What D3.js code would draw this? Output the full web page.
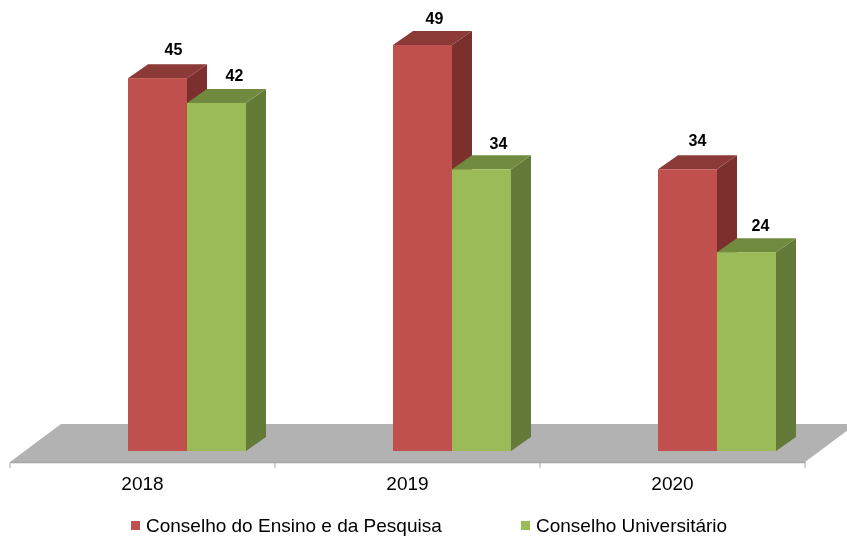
<!DOCTYPE html>
<html>
<head>
<meta charset="utf-8">
<script src="https://cdn.jsdelivr.net/npm/d3@7"></script>
<style>
  html, body { margin: 0; background: #fff; }
  svg { display: block; filter: blur(0.4px); }
  text { font-family: "Liberation Sans", Arial, sans-serif; fill: #000; }
</style>
</head>
<body>
<div id="plot"></div>
<script>
// data
const years = ["2018", "2019", "2020"];
const seriesNames = ["Conselho do Ensino e da Pesquisa", "Conselho Universitário"];
const ensinoValues = [45, 49, 34];
const universitarioValues = [42, 34, 24];

// colours per series: front, top, side
const colors = [
    { front: "#c0504d", top: "#8c3a38", side: "#7b302e" },
    { front: "#9bbb59", top: "#708b3f", side: "#647a38" }
];

const width = 847, height = 536;

// the floor of the 3d chart
const floorFront = 462, floorBack = 424, floorLeft = 10, floorRight = 805, floorShift = 51;
// depth of the bars, and how far the bars sit right of the axis categories
const depthX = 20, depthY = 14, barShift = 44.5;
const baseY = 451;

const svg = d3.select("#plot")
    .append("svg")
    .attr("width", width)
    .attr("height", height);

// x scale for the categories, matches the axis ticks
const x = d3.scaleBand().domain(years).range([floorLeft, floorRight]);

// inner scale for the two bars of a year
const x1 = d3.scaleBand().domain([0, 1]).range([0, 118]);

const y = d3.scaleLinear().domain([0, 49]).range([baseY, 45]);

// floor
svg.append("path")
    .attr("d", d3.line()([
        [floorLeft, floorFront],
        [floorLeft + floorShift, floorBack],
        [floorRight + floorShift, floorBack],
        [floorRight, floorFront]
    ]) + "Z")
    .attr("fill", "#b2b2b2");

// axis along the front of the floor
const axisGroup = svg.append("g")
    .attr("transform", `translate(0,${floorFront})`)
    .call(d3.axisBottom(x).tickSize(0).tickPadding(15));
axisGroup.select(".domain").attr("stroke", "#a6a6a6").attr("stroke-width", 1.5);
axisGroup.selectAll("text")
    .attr("font-size", 19)
    .style("font-family", '"Liberation Sans", Arial, sans-serif');

// ticks sit on the category edges, not the centres
const tickEdges = years.map(d => x(d)).concat(floorRight);
axisGroup.selectAll("line.edge")
    .data(tickEdges)
    .join("line")
    .attr("class", "edge")
    .attr("x1", d => d).attr("x2", d => d)
    .attr("y1", 0).attr("y2", 6)
    .attr("stroke", "#a6a6a6");

// left edge of a bar
const barLeft = (s, i) => x(years[i]) + barShift + x1(s) + (x.bandwidth() - 118) / 2;

// bars
const barWidth = x1.bandwidth();
[ensinoValues, universitarioValues].forEach((values, s) => {
    const g = svg.append("g").attr("class", "series");
    const c = colors[s];
    values.forEach((v, i) => {
        const left = barLeft(s, i);
        const right = left + barWidth;
        const top = y(v);

        // side
        g.append("path")
            .attr("d", d3.line()([[right, top], [right + depthX, top - depthY], [right + depthX, baseY - depthY], [right, baseY]]) + "Z")
            .attr("fill", c.side);
        // top
        g.append("path")
            .attr("d", d3.line()([[left, top], [left + depthX, top - depthY], [right + depthX, top - depthY], [right, top]]) + "Z")
            .attr("fill", c.top);
        // front
        g.append("rect")
            .attr("x", left)
            .attr("y", top)
            .attr("width", barWidth)
            .attr("height", baseY - top)
            .attr("fill", c.front);
    });
});

// value labels, placed by hand in the original so each has its own nudge
const labelNudge = [
    [[-4, 1], [-8, 3], [-10, 1]],
    [[-2, 2], [-3, 4], [-6, 3]]
];
[ensinoValues, universitarioValues].forEach((values, s) => {
    values.forEach((v, i) => {
        const nudge = labelNudge[s][i];
        svg.append("text")
            .attr("x", barLeft(s, i) + barWidth / 2 + depthX + nudge[0])
            .attr("y", y(v) - depthY - 10 + nudge[1])
            .attr("text-anchor", "middle")
            .attr("font-size", 16)
            .attr("font-weight", "bold")
            .text(v);
    });
});

// legend
const legendX = [131, 521];
seriesNames.forEach((name, s) => {
    svg.append("rect")
        .attr("x", legendX[s])
        .attr("y", 521)
        .attr("width", 9)
        .attr("height", 9)
        .attr("fill", colors[s].front);
    svg.append("text")
        .attr("x", legendX[s] + 15)
        .attr("y", 532)
        .attr("font-size", 19)
        .text(name);
});
</script>
</body>
</html>
